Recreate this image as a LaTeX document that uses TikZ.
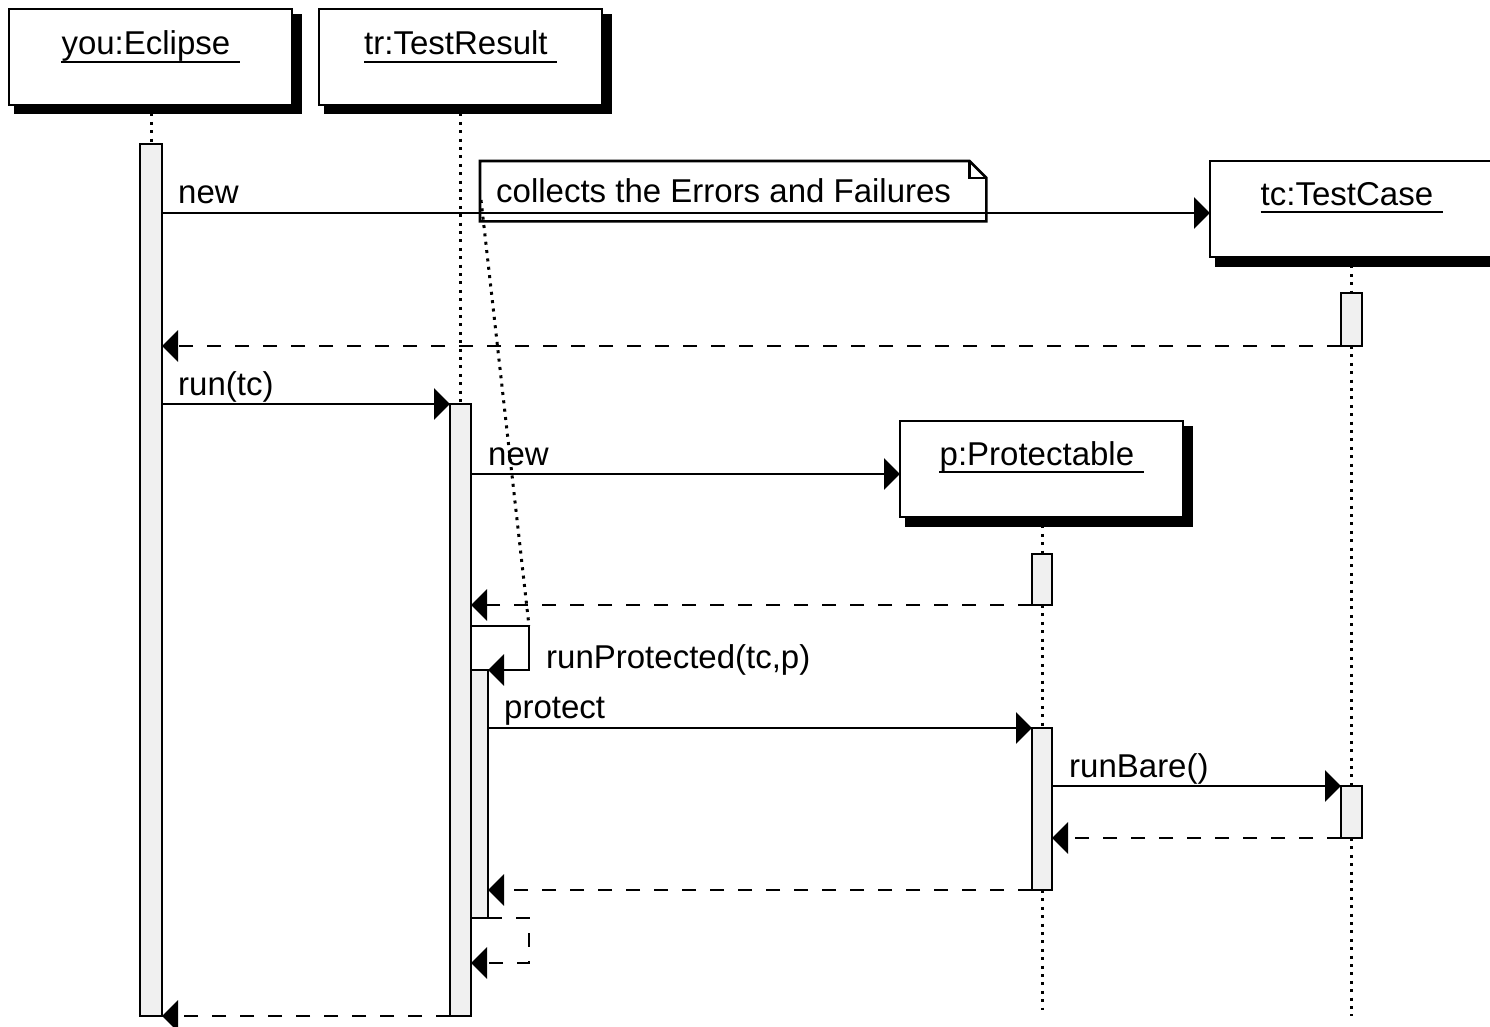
\documentclass[tikz,border=0pt]{standalone}
\usepackage{fontspec}
\setmainfont{Liberation Sans}
\usetikzlibrary{arrows.meta,backgrounds}
\definecolor{actgray}{RGB}{240,240,240}
\begin{document}
\begin{tikzpicture}[x=1pt,y=-1pt,
  font=\fontsize{33pt}{40pt}\selectfont,
  obj/.style={draw, fill=white, line width=2.8pt, minimum width=283pt,
    minimum height=96pt, inner sep=0pt, outer sep=0pt, anchor=north west},
  shadowfill/.style={fill=black},
  objlabel/.style={anchor=base, inner sep=0pt},
  uline/.style={line width=2.2pt},
  act/.style={draw, fill=actgray, line width=2.6pt, inner sep=0pt, outer sep=0pt, anchor=north},
  life/.style={line width=3pt, dash pattern=on 3pt off 5.4pt},
  call/.style={line width=2.6pt, -{Triangle[length=16pt,width=31pt]}},
  ret/.style={call, dash pattern=on 14pt off 14pt},
  msg/.style={anchor=base west, inner sep=0pt},
  noteline/.style={line width=3pt, dash pattern=on 3pt off 5.4pt},
]
\useasboundingbox (0,0) rectangle (1490,1027);
\clip (0,0) rectangle (1490,1027);

% object boxes
\node[obj] (ecl) at (9,9) {};
\node[obj] (tr) at (319,9) {};
\node[obj, minimum width=292pt] (tc) at (1210,161) {};
\node[obj] (pr) at (900,421) {};

% activation bars
\node[act, minimum width=22pt, minimum height=872pt] (aE) at (151,144) {};
\node[act, minimum width=21pt, minimum height=612pt] (aT) at (460.5,404) {};
\node[act, minimum width=17pt, minimum height=248pt] (aN) at (479.5,670) {};
\node[act, minimum width=21pt, minimum height=53pt] (aC1) at (1351.5,293) {};
\node[act, minimum width=21pt, minimum height=52pt] (aC2) at (1351.5,786) {};
\node[act, minimum width=20pt, minimum height=51pt] (aP1) at (1042,554) {};
\node[act, minimum width=20pt, minimum height=162pt] (aP2) at (1042,728) {};

% lifeline ends and self-message corners
\coordinate (endC) at (1351.5,1016);
\coordinate (endP) at (1042,1010);
\coordinate (m1) at (0,213);
\coordinate (m4) at (0,474);
\coordinate (s1) at (529,626);
\coordinate (s2) at (529,963);

\begin{scope}[on background layer]
  % box shadows
  \foreach \b in {ecl,tr,tc,pr}
    \fill[shadowfill] ([shift={(5pt,-5pt)}]\b.north west) rectangle ([shift={(9.5pt,-9.5pt)}]\b.south east);
  % lifelines
  \draw[life] (aE.north |- ecl.south) -- (aE.north);
  \draw[life] (aT.north |- tr.south) -- (aT.north);
  \draw[life] (aC1.north |- tc.south) -- (aC1.north);
  \draw[life] (aC1.south) -- (aC2.north);
  \draw[life] (aC2.south) -- (endC);
  \draw[life] (aP1.north |- pr.south) -- (aP1.north);
  \draw[life] (aP1.south) -- (aP2.north);
  \draw[life] (aP2.south) -- (endP);
\end{scope}

% note
\node[inner sep=0pt, minimum width=506pt, minimum height=60pt, anchor=north west] (note) at (480,161) {};
\draw[line width=2.6pt, fill=white]
  (note.north west) -- ([xshift=-17pt]note.north east) -- ([yshift=-17pt]note.north east)
  -- (note.south east) -- (note.south west) -- cycle;
\draw[line width=2.6pt, line join=miter]
  ([xshift=-17pt]note.north east) -- ([xshift=-17pt,yshift=-17pt]note.north east)
  -- ([yshift=-17pt]note.north east);
\node[msg] (noteT) at (496,203) {collects the Errors and Failures};
\draw[noteline] (481,200) -- (s1);

% messages
\draw[call] (aE.east |- m1) -- (tc.west |- m1);
\draw[ret] (aC1.south west) -- (aE.east |- aC1.south west);
\draw[call] (aE.east |- aT.north) -- (aT.north west);
\draw[call] (aT.east |- m4) -- (pr.west |- m4);
\draw[ret] (aP1.south west) -- (aT.east |- aP1.south west);
\draw[call] (aT.east |- s1) -- (s1) -- (s1 |- aN.north) -- (aN.north east);
\draw[call] (aN.east |- aP2.north) -- (aP2.north west);
\draw[call] (aP2.east |- aC2.north) -- (aC2.north west);
\draw[ret] (aC2.south west) -- (aP2.east |- aC2.south west);
\draw[ret] (aP2.south west) -- (aN.east |- aP2.south west);
\draw[ret] (aN.south east) -- (s2 |- aN.south east) -- (s2) -- (aT.east |- s2);
\draw[ret] (aT.south west) -- (aE.east |- aT.south west);

% message labels
\node[msg] (l1) at (178,204) {new};
\node[msg] (l3) at (178,395) {run(tc)};
\node[msg] (l4) at (488,465) {new};
\node[msg] (l6) at (546,668) {runProtected(tc,p)};
\node[msg] (l7) at (504,718) {protect};
\node[msg] (l8) at (1069,777) {runBare()};

% object names
\node[objlabel] (eclT) at ([yshift=-46pt]ecl.north) {you:Eclipse\kern.278em};
\node[objlabel] (trT) at ([yshift=-46pt]tr.north) {tr:TestResult\kern.278em};
\node[objlabel] (tcT) at ([shift={(-4.5pt,-44pt)}]tc.north) {tc:TestCase\kern.278em};
\node[objlabel] (prT) at ([yshift=-44pt]pr.north) {p:Protectable\kern.278em};
\foreach \t in {eclT,trT,tcT,prT}
  \draw[uline] ([yshift=-7pt]\t.base west) -- ([yshift=-7pt]\t.base east);
\end{tikzpicture}
\end{document}
